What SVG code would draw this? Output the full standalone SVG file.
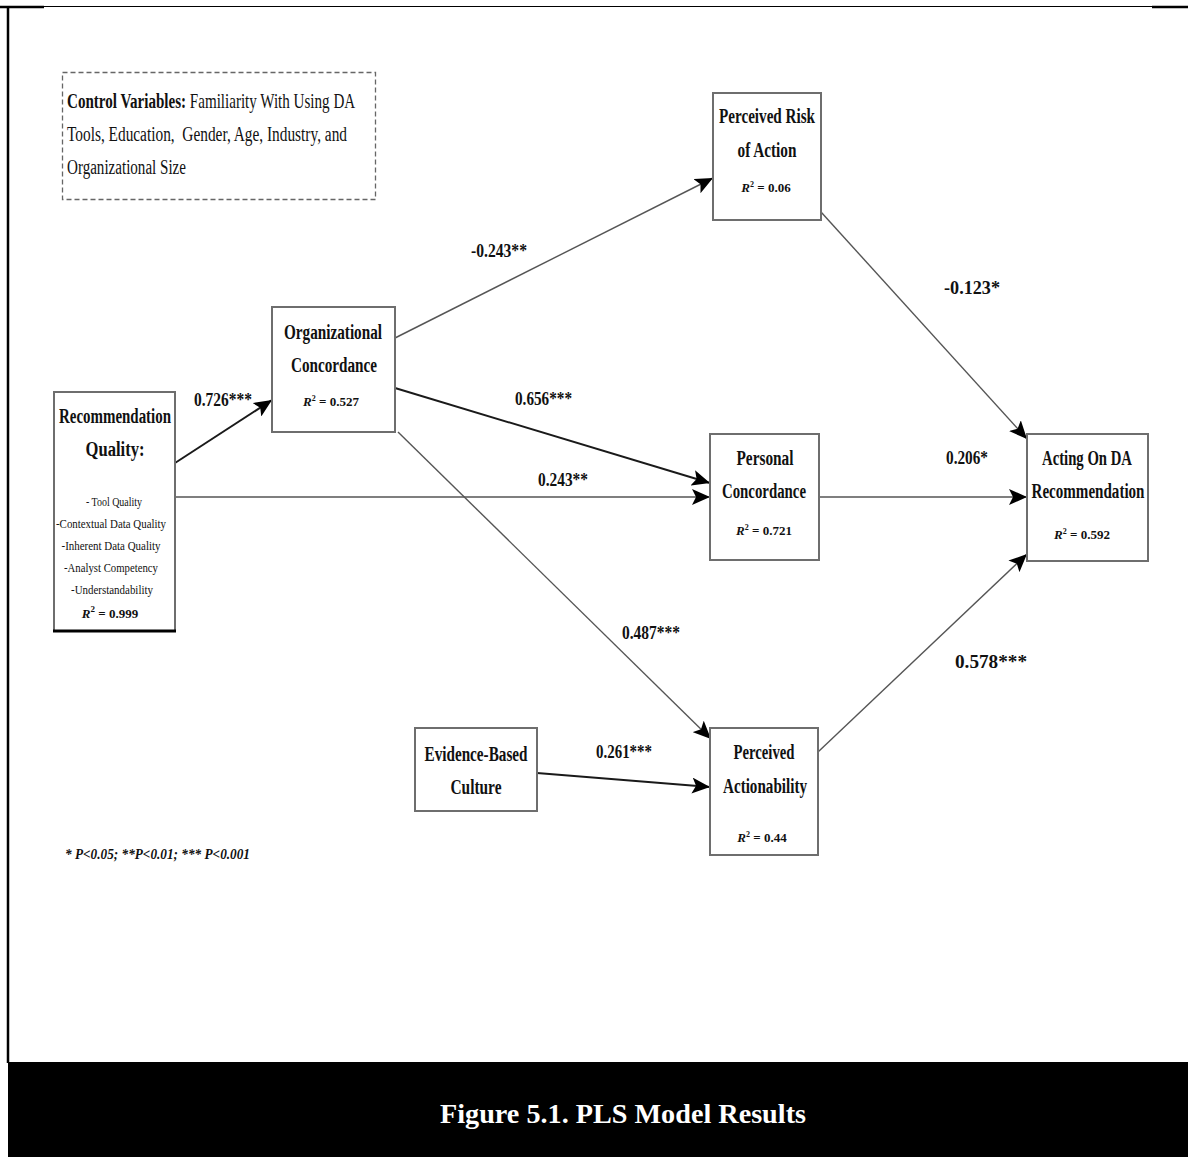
<svg xmlns="http://www.w3.org/2000/svg" width="1188" height="1157" viewBox="0 0 1188 1157">
  <defs>
    <style>
      .box { fill: #fff; stroke: #6e6e6e; stroke-width: 2; }
      .t { font-family: "Liberation Serif", "Times New Roman", serif; fill: #111; }
      .title { font-size: 20px; font-weight: bold; text-anchor: middle; }
      .r2 { font-size: 13px; font-weight: bold; text-anchor: middle; }
      .small { font-size: 13px; text-anchor: middle; }
      .lbl { font-size: 19px; font-weight: bold; }
      .cv { font-size: 20px; }
      .edge { fill: none; stroke: #555; stroke-width: 1.4; marker-end: url(#arrow); }
      .edge.dark { stroke: #1a1a1a; stroke-width: 2; }
    </style>
    <marker id="arrow" markerUnits="userSpaceOnUse" markerWidth="19" markerHeight="16" refX="18" refY="8" orient="auto">
      <path d="M0,0 L18,8 L0,16 L4,8 z" fill="#000"/>
    </marker>
  </defs>

  <rect x="0" y="0" width="1188" height="1157" fill="#fff"/>

  <!-- page frame -->
  <g id="frame">
    <line x1="0" y1="6.5" x2="1188" y2="6.5" stroke="#000" stroke-width="1"/>
    <line x1="0" y1="7" x2="44" y2="7" stroke="#000" stroke-width="2.5"/>
    <line x1="1152" y1="7" x2="1188" y2="7" stroke="#000" stroke-width="2.5"/>
    <line x1="8" y1="6" x2="8" y2="1063" stroke="#000" stroke-width="2.5"/>
  </g>

  <!-- control variables note -->
  <g id="control-variables">
    <rect x="62.5" y="72.5" width="313" height="127" fill="none" stroke="#666" stroke-width="1.3" stroke-dasharray="5,3"/>
    <text class="t cv" transform="translate(67,108) scale(0.754,1)"><tspan font-weight="bold">Control Variables:</tspan> Familiarity With Using DA</text>
    <text class="t cv" x="67" y="141" textLength="280" lengthAdjust="spacingAndGlyphs" xml:space="preserve">Tools, Education,  Gender, Age, Industry, and</text>
    <text class="t cv" x="67" y="174" textLength="119" lengthAdjust="spacingAndGlyphs">Organizational Size</text>
  </g>

  <!-- connectors -->
  <g id="connectors">
    <path class="edge dark" d="M175,463 L272,400"/>
    <path class="edge" d="M175,497 L710,497"/>
    <path class="edge" d="M395,338 L713,178"/>
    <path class="edge dark" d="M395,388 L710,483"/>
    <path class="edge" d="M398,432 L711,739"/>
    <path class="edge" d="M821,212 L1027,439"/>
    <path class="edge" d="M819,497 L1027,497"/>
    <path class="edge" d="M818,752 L1027,554"/>
    <path class="edge dark" d="M537,773 L710,787"/>

    <text class="t lbl" x="194" y="406" textLength="58" lengthAdjust="spacingAndGlyphs">0.726***</text>
    <text class="t lbl" x="471" y="257" textLength="56" lengthAdjust="spacingAndGlyphs">-0.243**</text>
    <text class="t lbl" x="515" y="405" textLength="57" lengthAdjust="spacingAndGlyphs">0.656***</text>
    <text class="t lbl" x="538" y="486" textLength="50" lengthAdjust="spacingAndGlyphs">0.243**</text>
    <text class="t lbl" x="622" y="639" textLength="58" lengthAdjust="spacingAndGlyphs">0.487***</text>
    <text class="t lbl" x="944" y="294" textLength="56" lengthAdjust="spacingAndGlyphs">-0.123*</text>
    <text class="t lbl" x="946" y="464" textLength="42" lengthAdjust="spacingAndGlyphs">0.206*</text>
    <text class="t lbl" x="955" y="668" textLength="72" lengthAdjust="spacingAndGlyphs">0.578***</text>
    <text class="t lbl" x="596" y="758" textLength="56" lengthAdjust="spacingAndGlyphs">0.261***</text>
  </g>

  <!-- Recommendation Quality -->
  <g id="recommendation-quality">
    <rect class="box" x="54" y="392" width="121" height="239"/>
    <line x1="53" y1="631" x2="176" y2="631" stroke="#000" stroke-width="3"/>
    <text class="t title" x="115" y="423" textLength="112" lengthAdjust="spacingAndGlyphs">Recommendation</text>
    <text class="t title" x="115" y="456" textLength="59" lengthAdjust="spacingAndGlyphs">Quality:</text>
    <text class="t small" x="114" y="506" textLength="56" lengthAdjust="spacingAndGlyphs">- Tool Quality</text>
    <text class="t small" x="111" y="528" textLength="110" lengthAdjust="spacingAndGlyphs">-Contextual Data Quality</text>
    <text class="t small" x="111" y="550" textLength="99" lengthAdjust="spacingAndGlyphs">-Inherent Data Quality</text>
    <text class="t small" x="111" y="572" textLength="94" lengthAdjust="spacingAndGlyphs">-Analyst Competency</text>
    <text class="t small" x="112" y="594" textLength="82" lengthAdjust="spacingAndGlyphs">-Understandability</text>
    <text class="t r2" x="110" y="618" font-size="14"><tspan font-style="italic">R</tspan><tspan font-size="9" dy="-6">2</tspan><tspan dy="6"> = 0.999</tspan></text>
  </g>

  <!-- Organizational Concordance -->
  <g id="organizational-concordance">
    <rect class="box" x="272" y="307" width="123" height="125"/>
    <text class="t title" x="333" y="339" textLength="98" lengthAdjust="spacingAndGlyphs">Organizational</text>
    <text class="t title" x="334" y="372" textLength="86" lengthAdjust="spacingAndGlyphs">Concordance</text>
    <text class="t r2" x="331" y="406"><tspan font-style="italic">R</tspan><tspan font-size="8" dy="-5">2</tspan><tspan dy="5"> = 0.527</tspan></text>
  </g>

  <!-- Perceived Risk of Action -->
  <g id="perceived-risk">
    <rect class="box" x="713" y="93" width="108" height="127"/>
    <text class="t title" x="767" y="123" textLength="96" lengthAdjust="spacingAndGlyphs">Perceived Risk</text>
    <text class="t title" x="767" y="157" textLength="59" lengthAdjust="spacingAndGlyphs">of Action</text>
    <text class="t r2" x="766" y="192"><tspan font-style="italic">R</tspan><tspan font-size="8" dy="-5">2</tspan><tspan dy="5"> = 0.06</tspan></text>
  </g>

  <!-- Personal Concordance -->
  <g id="personal-concordance">
    <rect class="box" x="710" y="434" width="109" height="126"/>
    <text class="t title" x="765" y="465" textLength="57" lengthAdjust="spacingAndGlyphs">Personal</text>
    <text class="t title" x="764" y="498" textLength="84" lengthAdjust="spacingAndGlyphs">Concordance</text>
    <text class="t r2" x="764" y="535"><tspan font-style="italic">R</tspan><tspan font-size="8" dy="-5">2</tspan><tspan dy="5"> = 0.721</tspan></text>
  </g>

  <!-- Acting On DA Recommendation -->
  <g id="acting-on-recommendation">
    <rect class="box" x="1027" y="434" width="121" height="127"/>
    <text class="t title" x="1087" y="465" textLength="90" lengthAdjust="spacingAndGlyphs">Acting On DA</text>
    <text class="t title" x="1088" y="498" textLength="113" lengthAdjust="spacingAndGlyphs">Recommendation</text>
    <text class="t r2" x="1082" y="539"><tspan font-style="italic">R</tspan><tspan font-size="8" dy="-5">2</tspan><tspan dy="5"> = 0.592</tspan></text>
  </g>

  <!-- Evidence-Based Culture -->
  <g id="evidence-based-culture">
    <rect class="box" x="415" y="728" width="122" height="83"/>
    <text class="t title" x="476" y="761" textLength="103" lengthAdjust="spacingAndGlyphs">Evidence-Based</text>
    <text class="t title" x="476" y="794" textLength="51" lengthAdjust="spacingAndGlyphs">Culture</text>
  </g>

  <!-- Perceived Actionability -->
  <g id="perceived-actionability">
    <rect class="box" x="710" y="728" width="108" height="127"/>
    <text class="t title" x="764" y="759" textLength="61" lengthAdjust="spacingAndGlyphs">Perceived</text>
    <text class="t title" x="765" y="793" textLength="84" lengthAdjust="spacingAndGlyphs">Actionability</text>
    <text class="t r2" x="762" y="842"><tspan font-style="italic">R</tspan><tspan font-size="8" dy="-5">2</tspan><tspan dy="5"> = 0.44</tspan></text>
  </g>

  <!-- significance legend -->
  <g id="significance-note">
    <text class="t" x="65" y="859" font-size="14" font-weight="bold" font-style="italic" textLength="185" lengthAdjust="spacingAndGlyphs">* P&lt;0.05; **P&lt;0.01; *** P&lt;0.001</text>
  </g>

  <!-- caption band -->
  <g id="caption">
    <rect x="8" y="1062" width="1180" height="95" fill="#000"/>
    <text class="t" x="440" y="1123" font-size="28" font-weight="bold" style="fill:#fff" textLength="366" lengthAdjust="spacingAndGlyphs">Figure 5.1. PLS Model Results</text>
  </g>
</svg>
